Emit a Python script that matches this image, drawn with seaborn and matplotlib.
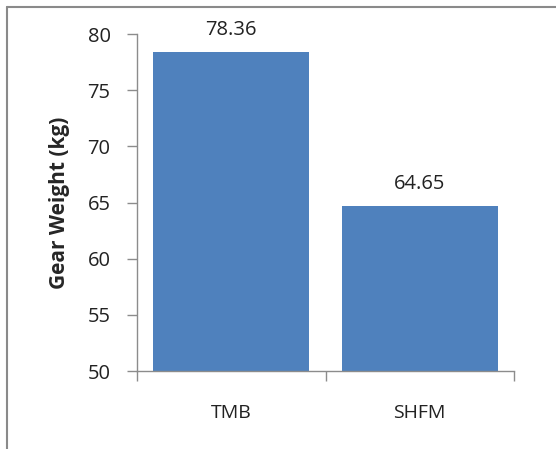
import matplotlib
matplotlib.use("Agg")
import matplotlib.pyplot as plt
from matplotlib.lines import Line2D
import seaborn as sns
import pandas as pd

# Gear weight per design
designs = ["TMB", "SHFM"]
weights = [78.36, 64.65]
y_ticks = [50, 55, 60, 65, 70, 75, 80]

df = pd.DataFrame({"design": designs, "weight": weights})

sns.set_theme(style="white")
plt.rcParams["font.family"] = ["Open Sans", "DejaVu Sans"]

DPI = 100
fig = plt.figure(figsize=(5.56, 4.49), dpi=DPI)
ax = fig.add_axes([137 / 556, 1 - 371 / 449, 377 / 556, 337 / 449])

sns.barplot(data=df, x="design", y="weight", color="#4F81BD", width=0.83,
            saturation=1, ax=ax, edgecolor="none")

ax.set_ylim(50, 80)
ax.set_xlim(-0.5, 1.5)
ax.set_yticks(y_ticks)
ax.set_yticklabels([str(t) for t in y_ticks], fontsize=14.5, color="#222222")

# category labels sit between boundary ticks
ax.set_xticks([0, 1])
ax.set_xticklabels(designs, fontsize=14, color="#222222")
ax.set_xticks([-0.5, 0.5, 1.5], minor=True)
ax.tick_params(axis="x", which="major", length=0, pad=24)
ax.tick_params(axis="x", which="minor", length=7, width=1, color="#8C8C8C",
               direction="out", bottom=True)
ax.tick_params(axis="y", which="major", length=7, width=1, color="#8C8C8C",
               direction="out", left=True, pad=12)

ax.set_xlabel("")
ax.set_ylabel("Gear Weight (kg)", fontsize=15, fontweight="bold", labelpad=13)

for side in ("top", "right"):
    ax.spines[side].set_visible(False)
for side in ("left", "bottom"):
    ax.spines[side].set_color("#8C8C8C")
    ax.spines[side].set_linewidth(1)

for cont in ax.containers:
    ax.bar_label(cont, labels=[f"{v:.2f}" for v in weights], padding=9,
                 fontsize=14.5, color="#222222")

# chart area frame (top and left edges)
fig.add_artist(Line2D([7 / 556, 1], [1 - 6.5 / 449, 1 - 6.5 / 449],
                      transform=fig.transFigure, color="#8A8A8A", lw=1.5))
fig.add_artist(Line2D([7 / 556, 7 / 556], [0, 1 - 6.5 / 449],
                      transform=fig.transFigure, color="#8A8A8A", lw=1.5))

fig.savefig("out.png", dpi=DPI, facecolor="white")
